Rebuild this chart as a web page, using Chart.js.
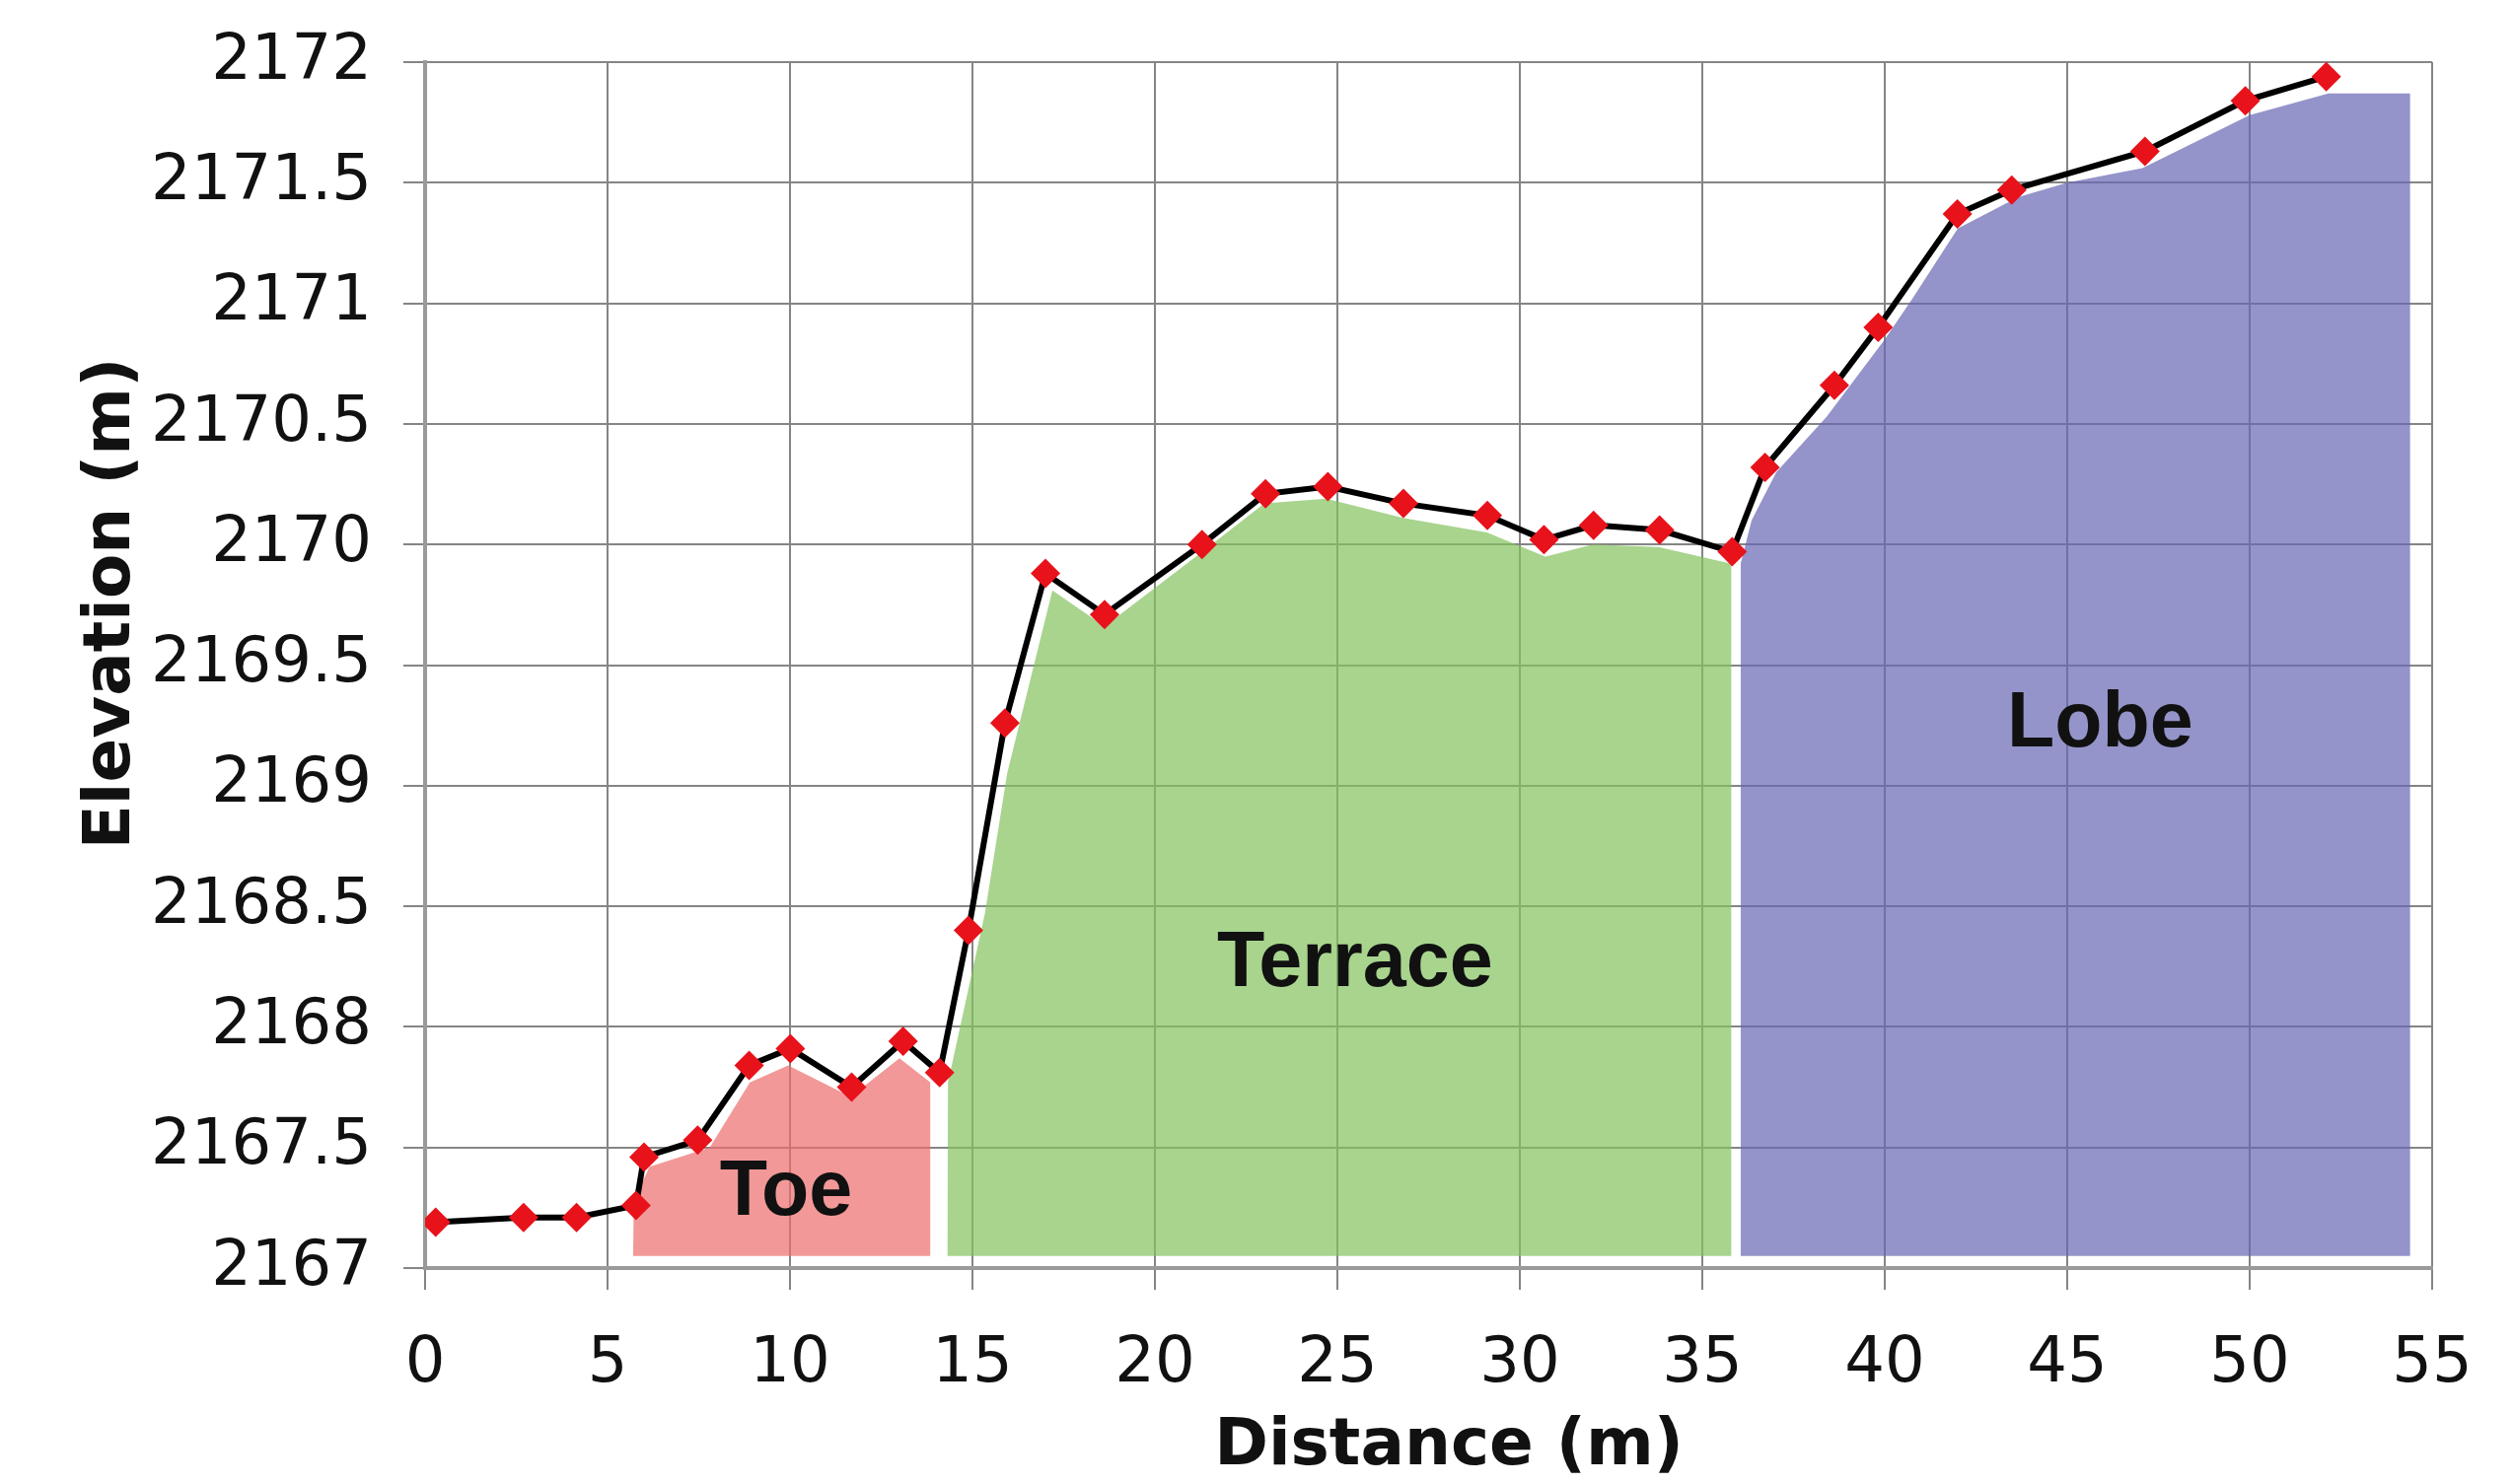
<!DOCTYPE html>
<html>
<head>
<meta charset="utf-8">
<script src="https://cdn.jsdelivr.net/npm/chart.js@4.4.1/dist/chart.umd.min.js"></script>
<style>
  html, body { margin:0; padding:0; background:#fff; }
  #wrap { width:2549px; height:1505px; position:relative; }
</style>
</head>
<body>
<div id="wrap"><canvas id="profileChart"></canvas></div>
<script>
// surveyed profile (distance in m, elevation in m)
const distance = [0.29, 2.70, 4.15, 5.78, 6.00, 7.47, 8.88, 10.01, 11.69, 13.10, 14.10,
  14.89, 15.89, 17.00, 18.62, 21.29, 23.03, 24.74, 26.81, 29.11, 30.66, 32.02, 33.83, 35.82,
  36.72, 38.62, 39.82, 41.99, 43.48, 47.13, 49.88, 52.10];
const elevation = [2167.19, 2167.21, 2167.21, 2167.26, 2167.46, 2167.53, 2167.84, 2167.91, 2167.75, 2167.94, 2167.81,
  2168.40, 2169.26, 2169.88, 2169.71, 2170.00, 2170.21, 2170.24, 2170.17, 2170.12, 2170.02, 2170.08, 2170.06, 2169.97,
  2170.32, 2170.66, 2170.90, 2171.37, 2171.47, 2171.63, 2171.84, 2171.94];

// shaded zones
const toeX = [5.70, 5.72, 6.15, 7.80, 8.90, 9.95, 11.66, 13.00, 13.85, 13.85];
const toeY = [2167.04, 2167.28, 2167.42, 2167.50, 2167.77, 2167.84, 2167.71, 2167.87, 2167.77, 2167.04];
const terraceX = [14.31, 14.33, 15.34, 15.95, 17.19, 18.62, 21.30, 23.00, 24.70, 26.80, 29.10, 30.70, 32.00, 33.80, 35.80, 35.80];
const terraceY = [2167.06, 2167.77, 2168.47, 2169.05, 2169.81, 2169.66, 2169.97, 2170.17, 2170.19, 2170.11, 2170.05, 2169.95, 2170.00, 2169.99, 2169.92, 2167.06];
const lobeX = [36.05, 36.05, 36.35, 37.03, 38.41, 40.00, 40.76, 42.00, 43.65, 45.00, 47.06, 50.00, 52.16, 54.40, 54.40];
const lobeY = [2167.06, 2169.92, 2170.10, 2170.30, 2170.53, 2170.85, 2171.02, 2171.31, 2171.44, 2171.50, 2171.56, 2171.78, 2171.87, 2171.87, 2167.06];
const AREA_BASE = 2167.05;

const zoneNames = ['Toe', 'Terrace', 'Lobe'];
const zoneLabelX = [9.89, 25.48, 45.9];
const zoneLabelY = [2167.31, 2168.26, 2169.25];

const xMin = 0, xMax = 55, xStep = 5;
const yMin = 2167, yMax = 2172, yStep = 0.5;

function pairs(xs, ys){
  return xs.map((x, i) => ({x, y: ys[i]}));
}

function areaSet(xs, ys, color){
  return {
    data: pairs(xs, ys),
    backgroundColor: color,
    borderColor: 'transparent',
    borderWidth: 0,
    pointRadius: 0,
    tension: 0,
    fill: {value: AREA_BASE},
    order: 2
  };
}

const overlayText = {
  id: 'overlayText',
  afterDatasetsDraw(chart){
    const {ctx, scales:{x, y}} = chart;
    ctx.save();
    ctx.fillStyle = '#111';
    ctx.font = 'bold 79px "Liberation Sans", Arial, sans-serif';
    ctx.textAlign = 'center';
    ctx.textBaseline = 'middle';
    zoneNames.forEach((name, i) => {
      ctx.fillText(name, x.getPixelForValue(zoneLabelX[i]), y.getPixelForValue(zoneLabelY[i]));
    });
    ctx.restore();
  },
  afterDraw(chart){
    const ctx = chart.ctx;
    ctx.save();
    ctx.fillStyle = '#111';
    ctx.font = 'bold 66px "DejaVu Sans", Verdana, sans-serif';
    ctx.textAlign = 'center';
    ctx.textBaseline = 'middle';
    ctx.fillText('Distance (m)', 1469, 1468);
    ctx.translate(114, 612);
    ctx.rotate(-Math.PI / 2);
    ctx.fillText('Elevation (m)', 0, 0);
    ctx.restore();
  }
};

const tickFont = {family: '"DejaVu Sans", Verdana, sans-serif', size: 64};

new Chart(document.getElementById('profileChart'), {
  type: 'line',
  data: {
    datasets: [
      {
        data: pairs(distance, elevation),
        borderColor: '#000',
        borderWidth: 6,
        tension: 0,
        fill: false,
        pointStyle: 'rectRot',
        pointRadius: 15,
        pointBackgroundColor: '#e8121b',
        pointBorderColor: '#e8121b',
        pointBorderWidth: 0,
        order: 0
      },
      areaSet(toeX, toeY, 'rgba(236,108,108,0.7)'),
      areaSet(terraceX, terraceY, 'rgba(131,194,94,0.7)'),
      areaSet(lobeX, lobeY, 'rgba(102,102,179,0.7)')
    ]
  },
  options: {
    responsive: true,
    maintainAspectRatio: false,
    animation: false,
    layout: {padding: {top: 63, right: 83, left: 0, bottom: 0}},
    plugins: {legend: {display: false}, tooltip: {enabled: false}},
    scales: {
      x: {
        type: 'linear',
        min: xMin, max: xMax,
        afterFit(scale){ scale.height = 219; },
        ticks: {stepSize: xStep, font: tickFont, color: '#111', padding: 38, maxRotation: 0},
        grid: {color: '#858585', lineWidth: 2, tickLength: 22},
        border: {color: '#9a9a9a', width: 4}
      },
      y: {
        min: yMin, max: yMax,
        afterFit(scale){
          scale.width = 431;
          scale.paddingTop = 20;
          scale.paddingBottom = 20;
        },
        ticks: {stepSize: yStep, font: tickFont, color: '#111', padding: 32, callback: v => String(v)},
        grid: {color: '#858585', lineWidth: 2, tickLength: 22},
        border: {color: '#9a9a9a', width: 4}
      }
    }
  },
  plugins: [overlayText]
});
</script>
</body>
</html>
